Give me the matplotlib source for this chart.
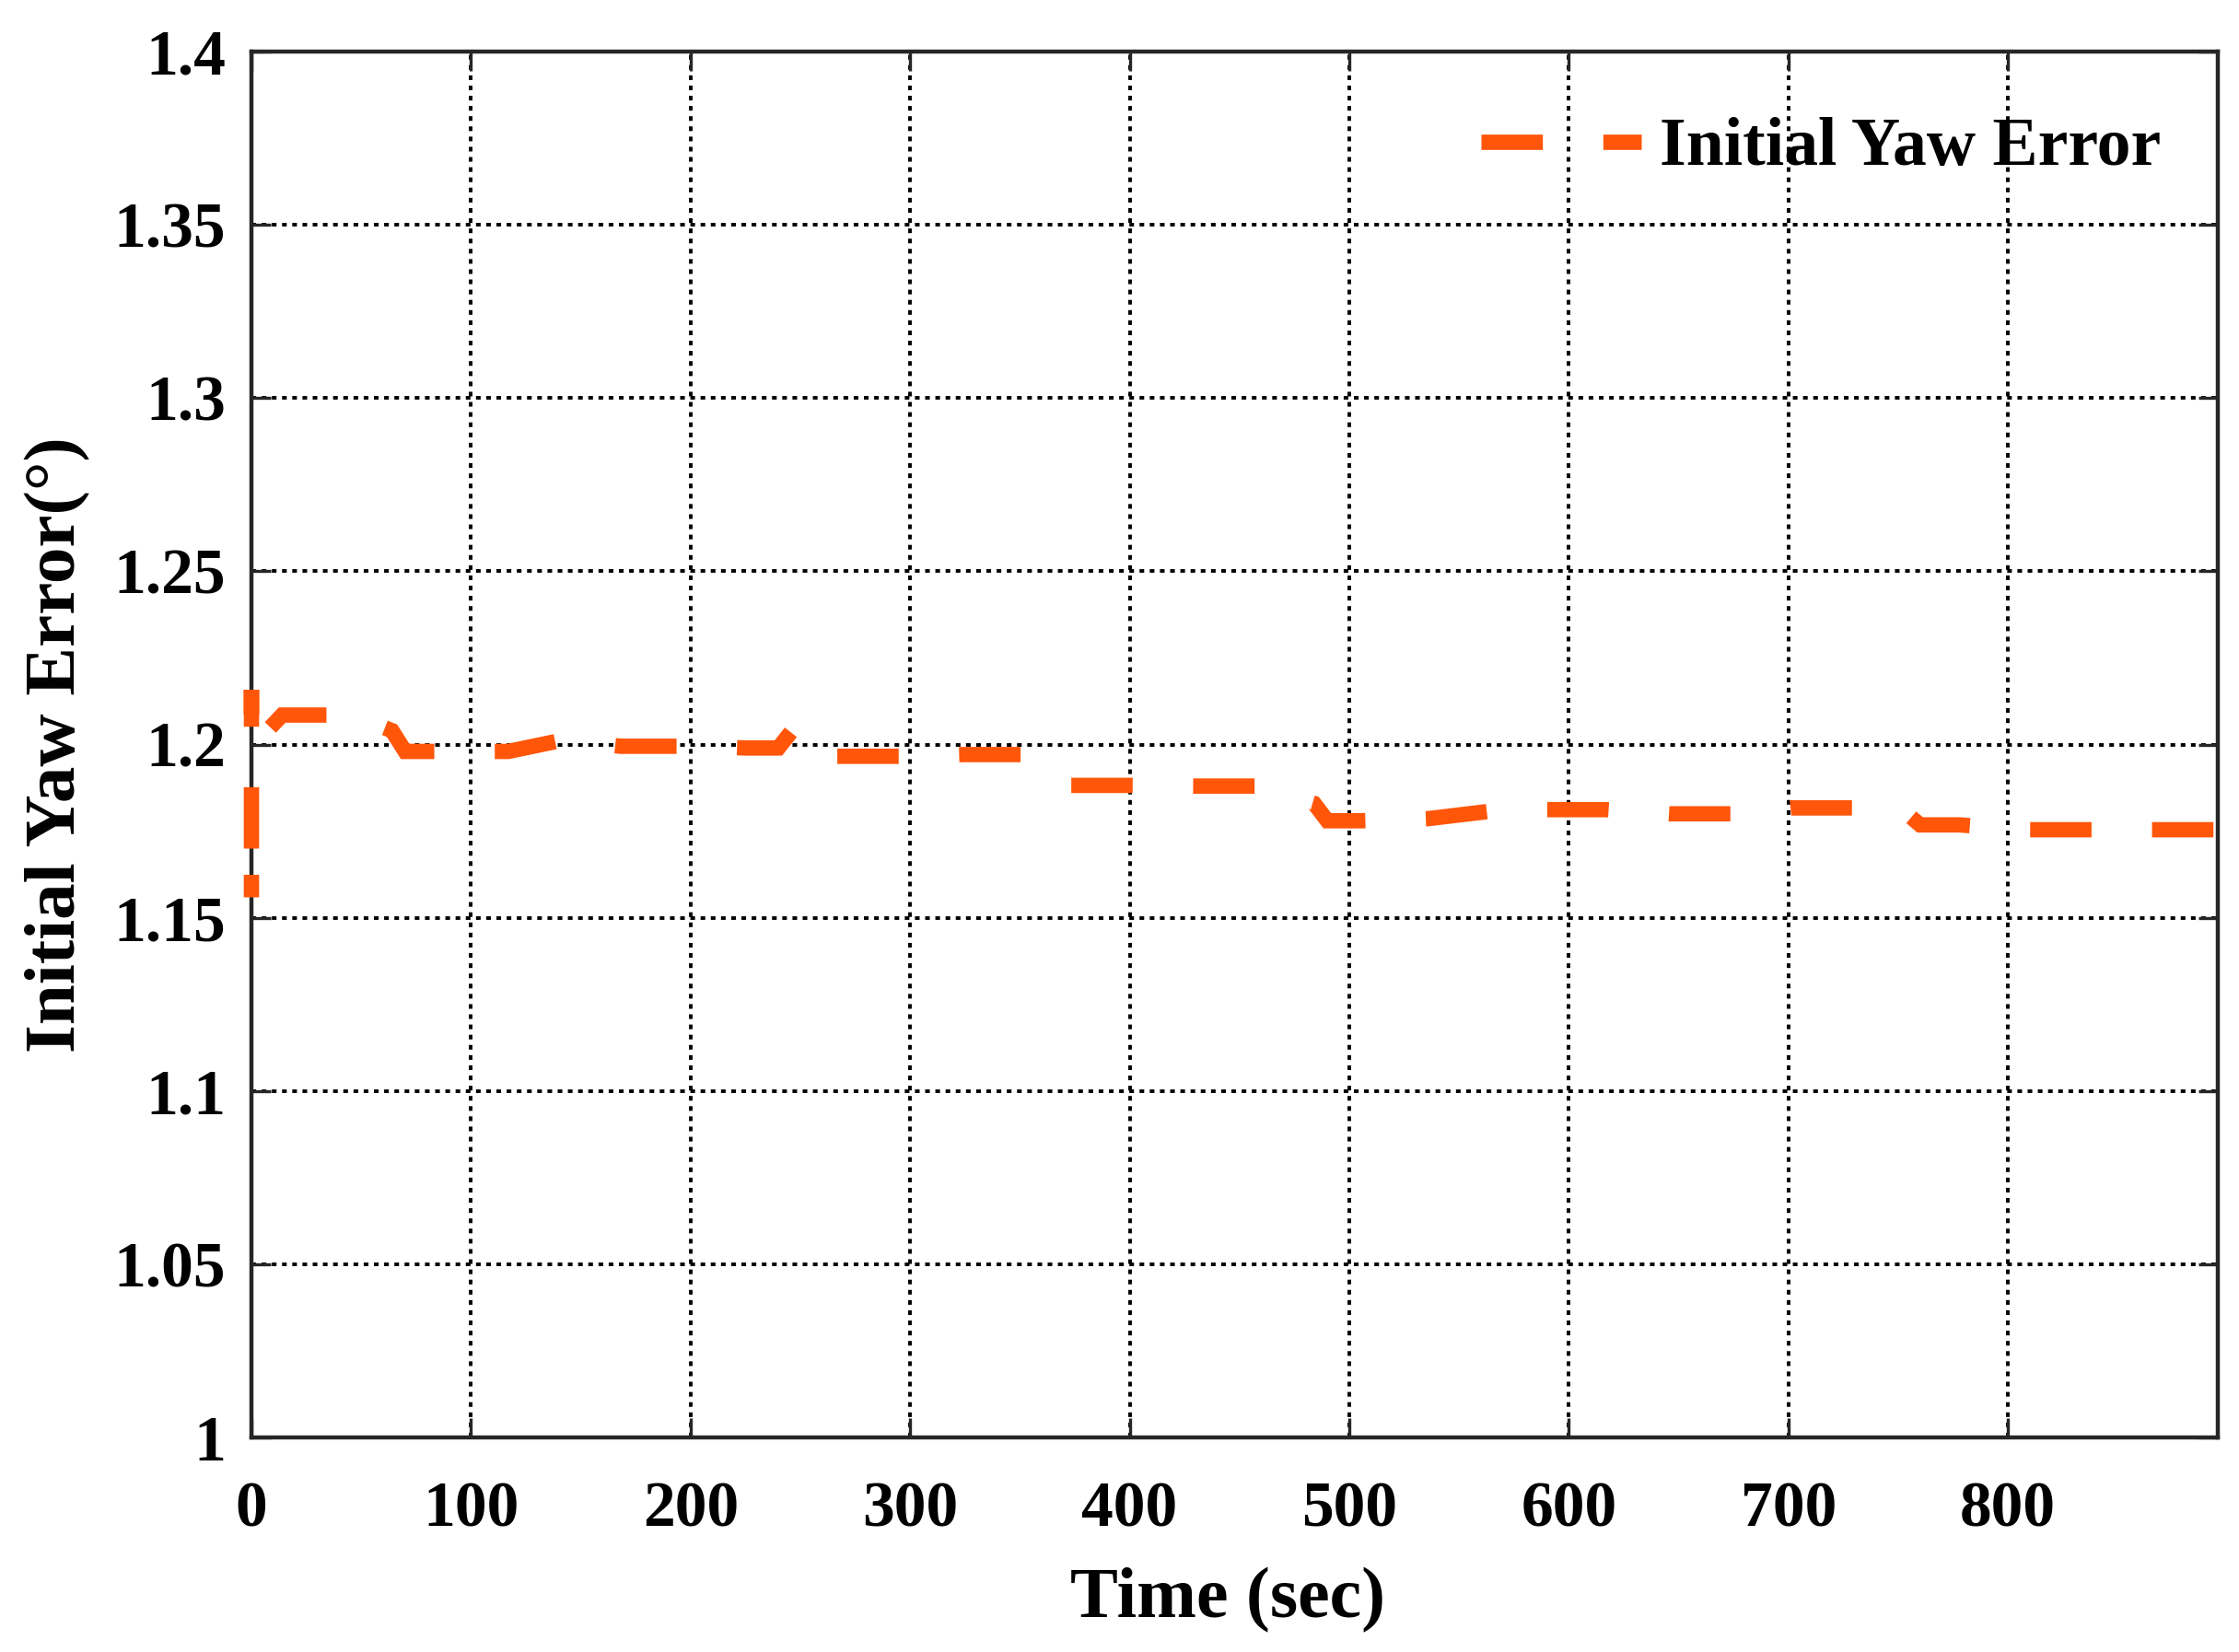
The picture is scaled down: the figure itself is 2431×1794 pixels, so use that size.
import matplotlib
matplotlib.use("Agg")
import matplotlib.pyplot as plt

# ---- data ----
time_s = [0, 0, 0, 0, 14, 43, 60, 64, 70, 88, 117, 142, 168, 199, 225, 240,
          248, 265, 295, 324, 352, 372, 400, 429, 457, 484, 490, 506, 536, 565,
          589, 617, 646, 675, 701, 730, 755, 760, 778, 807, 836, 865, 895]
yaw_err = [1.1624, 1.1542, 1.2158, 1.1992, 1.2085, 1.2085, 1.205, 1.204, 1.198, 1.198,
           1.198, 1.2013, 1.1995, 1.1995, 1.199, 1.199,
           1.2054, 1.1966, 1.1966, 1.1971, 1.1971, 1.1882, 1.1882, 1.188, 1.188, 1.183,
           1.178, 1.178, 1.1786, 1.1808,
           1.1812, 1.1812, 1.180, 1.180, 1.1817, 1.1817, 1.1795, 1.1768, 1.1768,
           1.1754, 1.1754, 1.1754, 1.1754]

x_ticks = [0, 100, 200, 300, 400, 500, 600, 700, 800]
y_ticks = [1.0, 1.05, 1.1, 1.15, 1.2, 1.25, 1.3, 1.35, 1.4]
y_tick_labels = ['1', '1.05', '1.1', '1.15', '1.2', '1.25', '1.3', '1.35', '1.4']
series_label = 'Initial Yaw Error'

# ---- style ----
plt.rcParams['font.family'] = ['Liberation Serif', 'DejaVu Serif']
plt.rcParams['font.weight'] = 'bold'

W, H = 2431, 1794
fig = plt.figure(figsize=(W / 100, H / 100), dpi=100)
ax = fig.add_axes([273 / W, 1 - 1561 / H, 2135 / W, 1505 / H])

line_color = '#FF560A'
lw = 12
dash_seq = (4.0, 3.94)
ax.plot(time_s, yaw_err, color=line_color, lw=lw,
        linestyle=(2.53, dash_seq), solid_capstyle='butt', dash_capstyle='butt',
        solid_joinstyle='miter', dash_joinstyle='miter',
        label=series_label, zorder=5, clip_on=False)

ax.set_xlim(0, 895.6)
ax.set_ylim(1.0, 1.4)
ax.set_xticks(x_ticks)
ax.set_xticklabels([str(v) for v in x_ticks])
ax.set_yticks(y_ticks)
ax.set_yticklabels(y_tick_labels)

ax.grid(True, color='black', lw=2.8, linestyle=(0, (1.3, 1.55)), zorder=1)
ax.set_axisbelow(True)

for sp in ax.spines.values():
    sp.set_linewidth(3.2)
    sp.set_color('#262626')
    sp.set_zorder(4)

ax.tick_params(axis='both', which='major', direction='in', length=15, width=2.4,
               color='#262626', labelsize=50, top=True, right=True)
ax.tick_params(axis='x', pad=34)
ax.tick_params(axis='y', pad=20)
for t in ax.get_xticklabels() + ax.get_yticklabels():
    t.set_fontweight('bold')

ax.set_xlabel('Time (sec)', fontsize=56, fontweight='bold')
ax.set_ylabel('Initial Yaw Error(°)', fontsize=57, fontweight='bold')
ax.xaxis.set_label_coords(0.4965, -0.0935)
ax.yaxis.set_label_coords(-0.082, 0.5)

leg = ax.legend(loc='center right', bbox_to_anchor=(0.971, 0.930), frameon=False,
                handlelength=2.36, handletextpad=0.27,
                borderpad=0, borderaxespad=0, prop={'weight': 'bold', 'size': 53})
leg.get_lines()[0].set_linestyle((0, dash_seq))

fig.savefig('out.png', dpi=100, facecolor='white')
